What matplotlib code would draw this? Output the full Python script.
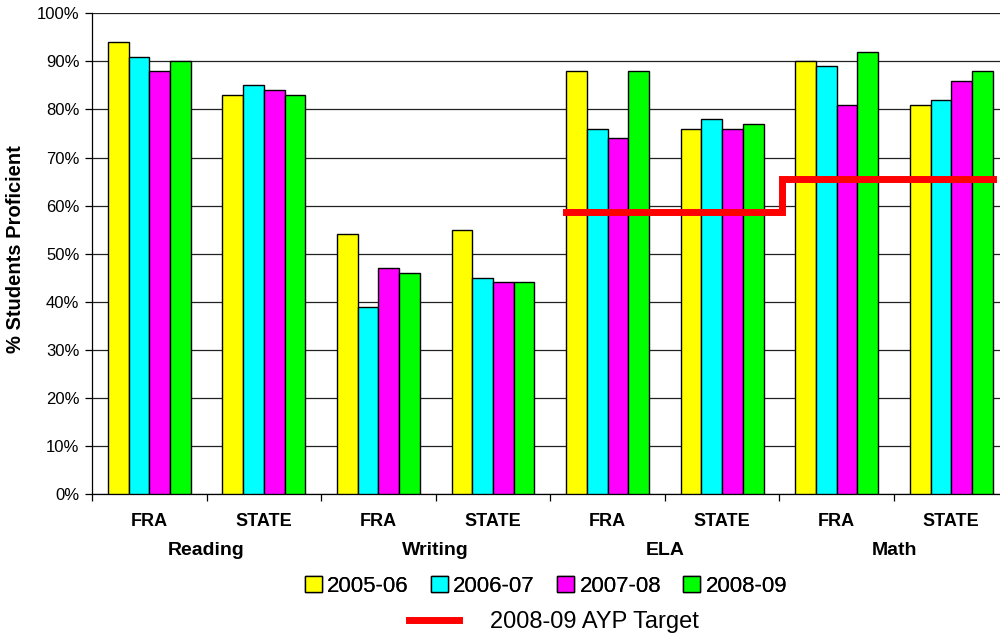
import matplotlib
matplotlib.use("Agg")
import matplotlib.pyplot as plt
import numpy as np
from matplotlib.patches import Patch
from matplotlib.lines import Line2D
from matplotlib.ticker import FixedLocator, FuncFormatter

plt.rcParams['font.family'] = ['Liberation Sans', 'DejaVu Sans']

subjects = ["Reading", "Writing", "ELA", "Math"]
categories = ["FRA", "STATE", "FRA", "STATE", "FRA", "STATE", "FRA", "STATE"]
years = ["2005-06", "2006-07", "2007-08", "2008-09"]
colors = ["#FFFF00", "#00FFFF", "#FF00FF", "#00FF00"]

v2005_06 = [94, 83, 54, 55, 88, 76, 90, 81]
v2006_07 = [91, 85, 39, 45, 76, 78, 89, 82]
v2007_08 = [88, 84, 47, 44, 74, 76, 81, 86]
v2008_09 = [90, 83, 46, 44, 88, 77, 92, 88]
series = [v2005_06, v2006_07, v2007_08, v2008_09]

ayp_label = "2008-09 AYP Target"
ayp_ela = 58.7
ayp_math = 65.5

fig = plt.figure(figsize=(10, 6.39), dpi=100)
ax = fig.add_axes([0.092, 145 / 639, 0.9166, 480.7 / 639])

n = len(categories)
x = np.arange(n)
bw = 0.181
for i, (vals, c) in enumerate(zip(series, colors)):
    ax.bar(x + (i - 1.5) * bw, vals, width=bw, color=c, edgecolor="black",
           linewidth=1.0, zorder=3)

# AYP step line
left_edge = 4 - 2 * bw
right_edge = 7 + 2 * bw
step_x = 5.52
ax.plot([left_edge, step_x, step_x, right_edge],
        [ayp_ela, ayp_ela, ayp_math, ayp_math],
        color="#FF0000", linewidth=5, solid_joinstyle="miter", zorder=4)

ax.set_xlim(-0.5, n - 0.5)
ax.set_ylim(0, 100)
ax.yaxis.set_major_locator(FixedLocator(np.arange(0, 101, 10)))
ax.yaxis.set_major_formatter(FuncFormatter(lambda v, p: f"{int(v)}%"))
ax.grid(axis="y", color="#222222", linewidth=0.9, zorder=0)
ax.set_axisbelow(True)
ax.tick_params(axis="y", labelsize=12, length=5, width=0.9, pad=4, colors="black")
ax.set_xticks(np.arange(-0.5, n, 1.0))
ax.set_xticklabels([])
ax.tick_params(axis="x", length=5, width=0.9)
for s in ["top", "right"]:
    ax.spines[s].set_visible(False)
ax.spines["left"].set_linewidth(0.9)
ax.spines["bottom"].set_linewidth(0.9)

trans = ax.get_xaxis_transform()
for i, c in enumerate(categories):
    ax.text(i, -0.058, c, transform=trans, ha="center", va="center",
            fontsize=13, fontweight="bold")
for j, s in enumerate(subjects):
    ax.text(2 * j + 0.5, -0.118, s, transform=trans, ha="center", va="center",
            fontsize=14, fontweight="bold")

fig.text(0.016, 1 - 249 / 639, "% Students Proficient", rotation=90,
         ha="center", va="center", fontsize=14.5, fontweight="bold")

handles = [Patch(facecolor=c, edgecolor="black", linewidth=1.0) for c in colors]
leg1 = fig.legend(handles, years, ncol=4, loc="center",
                  bbox_to_anchor=(546 / 1000, 1 - 586 / 639), frameon=False,
                  fontsize=16, handlelength=0.75, handleheight=0.75,
                  handletextpad=0.25, columnspacing=1.0, borderpad=0)
leg2 = fig.legend([Line2D([0], [0], color="#FF0000", linewidth=5)], [ayp_label],
                  loc="center", bbox_to_anchor=(554 / 1000, 1 - 622 / 639),
                  frameon=False, fontsize=17, handlelength=2.1,
                  handletextpad=1.3, borderpad=0)
fig.add_artist(leg1)

fig.savefig("out.png", dpi=100)
